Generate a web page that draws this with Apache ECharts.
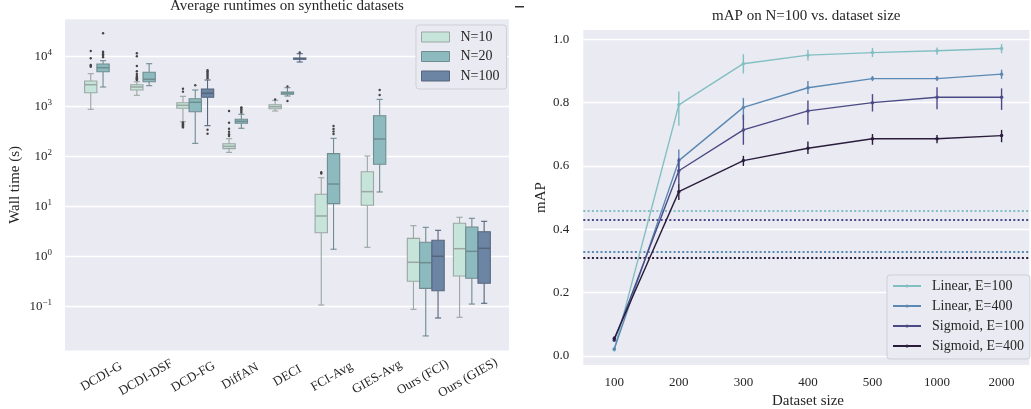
<!DOCTYPE html>
<html><head><meta charset="utf-8">
<script src="https://cdn.jsdelivr.net/npm/echarts@6/dist/echarts.min.js"></script>
<style>html,body{margin:0;padding:0;background:#fff}#c{width:1031px;height:409px}</style>
</head><body><div id="c"></div>
<script>
// ---------- Left panel data ----------
const methods = ['DCDI-G','DCDI-DSF','DCD-FG','DiffAN','DECI','FCI-Avg','GIES-Avg','Ours (FCI)','Ours (GIES)'];
const hueLabels = ['N=10','N=20','N=100'];
// [low whisker, Q1, median, Q3, high whisker] per method (seconds); null = not available
const boxN10 = [[887,1905,2754,3266,4571],[1690,2158,2477,2754,3162],[501,929,1067,1202,1614],[122,145,161,182,229],[820,912,1000,1096,1343],[0.108,3.02,6.52,17.7,38],[1.54,10.7,20,50,103],[0.0887,0.322,0.773,2.33,4.17],[0.0614,0.411,1.445,4.66,6.14]];
const boxN20 = [[2477,5012,6026,7145,8318],[2630,3162,3532,4875,7244],[185,794,1225,1445,2158],[370,466,510,560,705],[1637,1770,1879,1968,2399],[1.41,11.5,28.4,115,233],[19.7,70.5,226,661,1400],[0.026,0.233,0.759,1.94,3.87],[0.113,0.37,1.28,3.93,5.86]];
const boxN100 = [null,null,[417,1542,1854,2259,3420],null,[7830,8870,9120,9420,11500],null,null,[0.0594,0.209,1.02,2.13,3.37],[0.117,0.294,1.47,3.16,5.1]];
// outliers: [method index, seconds]
const outN10 = [[0,6310],[0,6600],[0,6823],[0,9290],[0,13000],[1,3400],[1,3550],[1,3700],[1,3900],[1,4100],[1,4500],[1,5100],[1,6500],[1,10200],[1,11700],[2,2000],[2,2290],[2,485],[2,465],[2,445],[2,425],[2,405],[2,385],[3,259],[3,281],[3,316],[3,363],[3,479],[3,820],[4,1400],[5,46],[5,48.7]];
const outN20 = [[0,9800],[0,10500],[0,11200],[0,12000],[0,12600],[0,29400],[2,2680],[3,760],[3,820],[3,880],[3,940],[3,970],[4,1300],[4,2550],[5,285],[5,320],[5,360],[5,411],[6,1714],[6,2158]];
const outN100 = [[2,3700],[2,3950],[2,4200],[2,4500],[2,4800],[2,5100],[2,5400],[2,347],[2,288],[4,12200]];
const logMin = 0.0133, logMax = 55976;

// ---------- Right panel data ----------
const sizes = ['100','200','300','400','500','1000','2000'];
const lineNames = ['Linear, E=100','Linear, E=400','Sigmoid, E=100','Sigmoid, E=400'];
const linE100 = [0.020,0.793,0.923,0.950,0.958,0.964,0.971];
const linE100Lo = [0.015,0.727,0.892,0.933,0.944,0.951,0.956];
const linE100Hi = [0.025,0.835,0.953,0.967,0.973,0.974,0.985];
const linE400 = [0.022,0.617,0.785,0.847,0.876,0.876,0.890];
const linE400Lo = [0.018,0.575,0.745,0.827,0.868,0.868,0.875];
const linE400Hi = [0.026,0.652,0.815,0.868,0.884,0.884,0.904];
const sigE100 = [0.050,0.585,0.714,0.774,0.800,0.817,0.817];
const sigE100Lo = [0.045,0.545,0.667,0.730,0.772,0.779,0.777];
const sigE100Hi = [0.055,0.625,0.762,0.807,0.827,0.849,0.845];
const sigE400 = [0.055,0.519,0.617,0.656,0.686,0.686,0.696];
const sigE400Lo = [0.048,0.493,0.600,0.638,0.667,0.672,0.675];
const sigE400Hi = [0.062,0.545,0.632,0.677,0.701,0.698,0.714];
const baselines = [0.457,0.333,0.429,0.314];
const yTicksRight = [0.0,0.2,0.4,0.6,0.8,1.0];

// ---------- Styles ----------
const FONT = 'Liberation Serif';
const TXT = '#262626';
const BG = '#EAEAF2';
const fill = ['#c6e4d9','#8cbabe','#6c85a5'];
const edge = ['#9aa7a3','#6f8c90','#55657c'];
const lineColors = ['#82bfc2','#5b89b3','#4a4a86','#2a1d3c'];

const boxes = [boxN10, boxN20, boxN100];
const outs = [outN10, outN20, outN100];
const lines = [linE100, linE400, sigE100, sigE400];
const los = [linE100Lo, linE400Lo, sigE100Lo, sigE400Lo];
const his = [linE100Hi, linE400Hi, sigE100Hi, sigE400Hi];

// rotated x-labels: emulate matplotlib centred rotated labels (top of rotated bbox aligned)
const mctx = document.createElement('canvas').getContext('2d');
mctx.font = '13px "' + FONT + '"';
const widths = methods.map(m => mctx.measureText(m).width);
const minW = Math.min.apply(null, widths);
const catItems = methods.map((m, i) => {
  const r = 0.25 * (widths[i] - minW);
  return {value: m, textStyle: {align: 'center', verticalAlign: 'middle', padding: [1.732 * r, r, 0, 0]}};
});

function boxRenderer(h) {
  return function (params, api) {
    const i = api.value(0);
    const band = api.size([1, 0], [i, 1])[0];
    const bw = band * 0.8 / 3;
    const cx = api.coord([i, api.value(3)])[0] + (h - 1) * bw;
    const y = k => api.coord([i, api.value(k)])[1];
    const yLo = y(1), yQ1 = y(2), yMed = y(3), yQ3 = y(4), yHi = y(5);
    const ls = {stroke: edge[h], lineWidth: 1.1};
    return {type: 'group', children: [
      {type: 'line', shape: {x1: cx, y1: yQ1, x2: cx, y2: yLo}, style: ls},
      {type: 'line', shape: {x1: cx, y1: yQ3, x2: cx, y2: yHi}, style: ls},
      {type: 'line', shape: {x1: cx - bw / 4, y1: yLo, x2: cx + bw / 4, y2: yLo}, style: ls},
      {type: 'line', shape: {x1: cx - bw / 4, y1: yHi, x2: cx + bw / 4, y2: yHi}, style: ls},
      {type: 'rect', shape: {x: cx - bw / 2, y: yQ3, width: bw, height: yQ1 - yQ3}, style: {fill: fill[h], stroke: edge[h], lineWidth: 1.1}},
      {type: 'line', shape: {x1: cx - bw / 2, y1: yMed, x2: cx + bw / 2, y2: yMed}, style: {stroke: edge[h], lineWidth: 1.5}}
    ]};
  };
}
function outRenderer(h) {
  return function (params, api) {
    const i = api.value(0);
    const band = api.size([1, 0], [i, 1])[0];
    const bw = band * 0.8 / 3;
    const p = api.coord([i, api.value(1)]);
    return {type: 'circle', shape: {cx: p[0] + (h - 1) * bw, cy: p[1], r: 1.2}, style: {fill: '#454545'}};
  };
}
function errRenderer(k) {
  return function (params, api) {
    const i = api.value(0);
    const a = api.coord([i, api.value(1)]);
    const b = api.coord([i, api.value(2)]);
    return {type: 'line', shape: {x1: a[0], y1: a[1], x2: b[0], y2: b[1]}, style: {stroke: lineColors[k], lineWidth: 1.4}};
  };
}

const series = [];
boxes.forEach((arr, h) => {
  const data = [];
  arr.forEach((s, i) => { if (s) data.push([i].concat(s)); });
  series.push({
    name: hueLabels[h], type: 'custom', xAxisIndex: 1, yAxisIndex: 1,
    renderItem: boxRenderer(h), encode: {x: 0, y: [1, 2, 3, 4, 5]},
    itemStyle: {color: fill[h], borderColor: edge[h]}, data: data, z: 3
  });
});
outs.forEach((arr, h) => {
  series.push({
    name: 'fliers ' + hueLabels[h], type: 'custom', xAxisIndex: 1, yAxisIndex: 1,
    renderItem: outRenderer(h), encode: {x: 0, y: 1}, data: arr, z: 4
  });
});
lines.forEach((vals, k) => {
  series.push({
    name: lineNames[k], type: 'line', xAxisIndex: 3, yAxisIndex: 3, data: vals,
    symbol: 'circle', symbolSize: 3.5, showSymbol: true,
    itemStyle: {color: lineColors[k]}, lineStyle: {color: lineColors[k], width: 1.4},
    emphasis: {disabled: true}, z: 5 + k
  });
  series.push({
    name: 'err ' + lineNames[k], type: 'custom', xAxisIndex: 3, yAxisIndex: 3,
    renderItem: errRenderer(k), encode: {x: 0, y: [1, 2]},
    data: sizes.map((s, i) => [i, los[k][i], his[k][i]]), z: 5 + k
  });
  series.push({
    name: 'baseline ' + lineNames[k], type: 'line', xAxisIndex: 2, yAxisIndex: 2, data: [],
    markLine: {silent: true, symbol: ['none', 'none'], label: {show: false}, animation: false,
      lineStyle: {color: lineColors[k], width: 1.8, type: [2, 2.3]},
      data: [{yAxis: baselines[k]}]}
  });
});

function logLabel(v) {
  const e = Math.log10(v), r = Math.round(e);
  if (Math.abs(e - r) > 1e-6) return '';
  return '{b|10}{s|' + (r < 0 ? '\u2212' + (-r) : r) + '}';
}
function rightLabel(v) {
  for (const t of yTicksRight) if (Math.abs(v - t) < 1e-6) return t.toFixed(1);
  return '';
}

const option = {
  animation: false,
  textStyle: {fontFamily: FONT, color: TXT},
  title: [
    {text: 'Average runtimes on synthetic datasets', left: 287, top: -1, textAlign: 'center', padding: 0,
      textStyle: {fontFamily: FONT, fontSize: 15, fontWeight: 'normal', color: TXT}},
    {text: 'mAP on N=100 vs. dataset size', left: 806.3, top: 9, textAlign: 'center', padding: 0,
      textStyle: {fontFamily: FONT, fontSize: 15, fontWeight: 'normal', color: TXT}}
  ],
  grid: [
    {left: 65, top: 19.3, width: 444, height: 331.2, show: true, backgroundColor: BG, borderWidth: 0, containLabel: false, outerBoundsMode: 'none'},
    {left: 80, top: 19.3, width: 414.9, height: 331.2, containLabel: false, outerBoundsMode: 'none'},
    {left: 583.3, top: 30, width: 446, height: 335, show: true, backgroundColor: BG, borderWidth: 0, containLabel: false, outerBoundsMode: 'none'},
    {left: 582.0, top: 30, width: 451.85, height: 335, containLabel: false, outerBoundsMode: 'none'}
  ],
  xAxis: [
    {gridIndex: 0, type: 'value', show: false, min: 0, max: 1},
    {gridIndex: 1, type: 'category', data: catItems, boundaryGap: true,
      axisLine: {show: false}, axisTick: {show: false}, splitLine: {show: false},
      axisLabel: {interval: 0, rotate: 30, align: 'center', verticalAlign: 'middle', margin: 25.2,
        fontFamily: FONT, fontSize: 13, color: TXT, hideOverlap: false}},
    {gridIndex: 2, type: 'value', show: false, min: 0, max: 1},
    {gridIndex: 3, type: 'category', data: sizes, boundaryGap: true,
      axisLine: {show: false}, axisTick: {show: false}, splitLine: {show: false},
      axisLabel: {interval: 0, margin: 11, fontFamily: FONT, fontSize: 13, color: TXT},
      name: 'Dataset size', nameLocation: 'middle', nameGap: 27,
      nameTextStyle: {fontFamily: FONT, fontSize: 15, color: TXT}}
  ],
  yAxis: [
    {gridIndex: 0, type: 'log', logBase: 10, min: logMin, max: logMax,
      axisLine: {show: false}, axisTick: {show: false},
      splitLine: {show: true, showMinLine: false, showMaxLine: false, lineStyle: {color: '#ffffff', width: 1.3}},
      minorSplitLine: {show: false},
      axisLabel: {margin: 13, formatter: logLabel, showMinLabel: true, showMaxLabel: true,
        rich: {b: {fontFamily: FONT, fontSize: 13, color: TXT, lineHeight: 18},
               s: {fontFamily: FONT, fontSize: 9, color: TXT, lineHeight: 10, verticalAlign: 'top'}}},
      name: 'Wall time (s)', nameLocation: 'middle', nameGap: 42,
      nameTextStyle: {fontFamily: FONT, fontSize: 15, color: TXT}},
    {gridIndex: 1, type: 'log', logBase: 10, min: logMin, max: logMax, show: false},
    {gridIndex: 2, type: 'value', min: -0.0284, max: 1.0294, splitNumber: 5,
      axisLine: {show: false}, axisTick: {show: false},
      splitLine: {show: true, showMinLine: false, showMaxLine: false, lineStyle: {color: '#ffffff', width: 1.3}},
      axisLabel: {margin: 14, formatter: rightLabel, fontFamily: FONT, fontSize: 13, color: TXT},
      name: 'mAP', nameLocation: 'middle', nameGap: 35,
      nameTextStyle: {fontFamily: FONT, fontSize: 15, color: TXT}},
    {gridIndex: 3, type: 'value', min: -0.0284, max: 1.0294, show: false}
  ],
  legend: [
    {orient: 'vertical', left: 416, top: 25, padding: [5, 7, 6, 5], itemGap: 5.5, itemWidth: 28, itemHeight: 10,
      backgroundColor: BG, borderColor: '#cfcfd6', borderWidth: 1, borderRadius: 3, selectedMode: false,
      textStyle: {fontFamily: FONT, fontSize: 14, color: TXT, padding: [0, 0, 0, 6], lineHeight: 14},
      data: hueLabels.map((n, h) => ({name: n, icon: 'rect', itemStyle: {color: fill[h], borderColor: edge[h], borderWidth: 1}}))},
    {orient: 'vertical', left: 887, top: 275, padding: [4, 6, 6, 5], itemGap: 6, itemWidth: 28, itemHeight: 4,
      backgroundColor: BG, borderColor: '#cfcfd6', borderWidth: 1, borderRadius: 3, selectedMode: false,
      textStyle: {fontFamily: FONT, fontSize: 14, color: TXT, padding: [0, 0, 0, 6], lineHeight: 14},
      data: lineNames.map(n => ({name: n}))}
  ],
  graphic: [
    {type: 'rect', left: 515, top: 6, shape: {width: 9, height: 1.5}, style: {fill: '#333333'}, silent: true}
  ],
  series: series
};
const chart = echarts.init(document.getElementById('c'), null, {renderer: 'canvas'});
chart.setOption(option);
</script>
</body></html>
